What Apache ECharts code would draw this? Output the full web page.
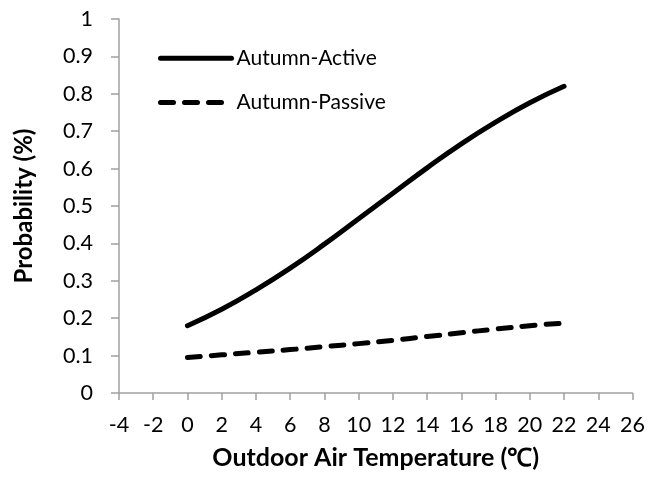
<!DOCTYPE html>
<html><head><meta charset="utf-8">
<script src="https://cdn.jsdelivr.net/npm/echarts@6/dist/echarts.min.js"></script>
<style>html,body{margin:0;padding:0;background:#fff}#c{width:648px;height:479px}</style>
</head><body><div id="c"></div>
<script>
const temps = [0, 2, 4, 6, 8, 10, 12, 14, 16, 18, 20, 22];
const activeVals = [0.180, 0.224, 0.276, 0.334, 0.398, 0.466, 0.534, 0.602, 0.666, 0.724, 0.776, 0.820];
const passiveVals = [0.095, 0.102, 0.109, 0.116, 0.124, 0.132, 0.141, 0.151, 0.161, 0.171, 0.180, 0.187];
const seriesNames = ['Autumn-Active', 'Autumn-Passive'];
const xTitle = 'Outdoor Air Temperature (℃)';
const yTitle = 'Probability (%)';

const font = 'Lato, "Liberation Sans", sans-serif';
const chart = echarts.init(document.getElementById('c'), null, {renderer: 'canvas'});
const axisColor = '#a0a0a0';
chart.setOption({
  animation: false,
  backgroundColor: '#fff',
  grid: {left: 119, right: 13, top: 19, bottom: 86, containLabel: false},
  legend: {
    orient: 'vertical', left: 153, top: 42, itemWidth: 71, itemHeight: 28, itemGap: 18,
    itemStyle: {opacity: 0},
    lineStyle: {width: 5, cap: 'round'},
    textStyle: {fontFamily: font, fontSize: 21, color: '#000', padding: [0, 0, 0, 0]},
    data: seriesNames
  },
  xAxis: {
    type: 'value', min: -4, max: 26, interval: 2,
    name: xTitle, nameLocation: 'middle', nameGap: 52,
    nameTextStyle: {fontFamily: font, fontSize: 25, fontWeight: 'bold', color: '#000'},
    axisLine: {lineStyle: {color: axisColor, width: 1.5}},
    axisTick: {show: true, length: 7, lineStyle: {color: axisColor, width: 1.5}},
    axisLabel: {fontFamily: font, fontSize: 21.5, color: '#000', margin: 21},
    splitLine: {show: false}
  },
  yAxis: {
    type: 'value', min: 0, max: 1, interval: 0.1,
    name: yTitle, nameLocation: 'middle', nameGap: 83, nameRotate: 90,
    nameTextStyle: {fontFamily: font, fontSize: 24, fontWeight: 'bold', color: '#000'},
    axisLine: {show: true, onZero: false, lineStyle: {color: axisColor, width: 1.5}},
    axisTick: {show: true, length: 8, lineStyle: {color: axisColor, width: 1.5}},
    axisLabel: {fontFamily: font, fontSize: 21.5, color: '#000', margin: 26,
      formatter: v => String(Math.round(v * 10) / 10)},
    splitLine: {show: false}
  },
  series: [
    {name: seriesNames[0], type: 'line', smooth: true, symbol: 'none',
     data: temps.map((t, i) => [t, activeVals[i]]),
     lineStyle: {color: '#000', width: 5, cap: 'round', join: 'round'},
     itemStyle: {color: '#000'}},
    {name: seriesNames[1], type: 'line', smooth: true, symbol: 'none',
     data: temps.map((t, i) => [t, passiveVals[i]]),
     lineStyle: {color: '#000', width: 5, type: [13, 11], cap: 'round', join: 'round'},
     itemStyle: {color: '#000'}}
  ]
});
chart.setOption({legend: {itemGap: 22}});
</script></body></html>
